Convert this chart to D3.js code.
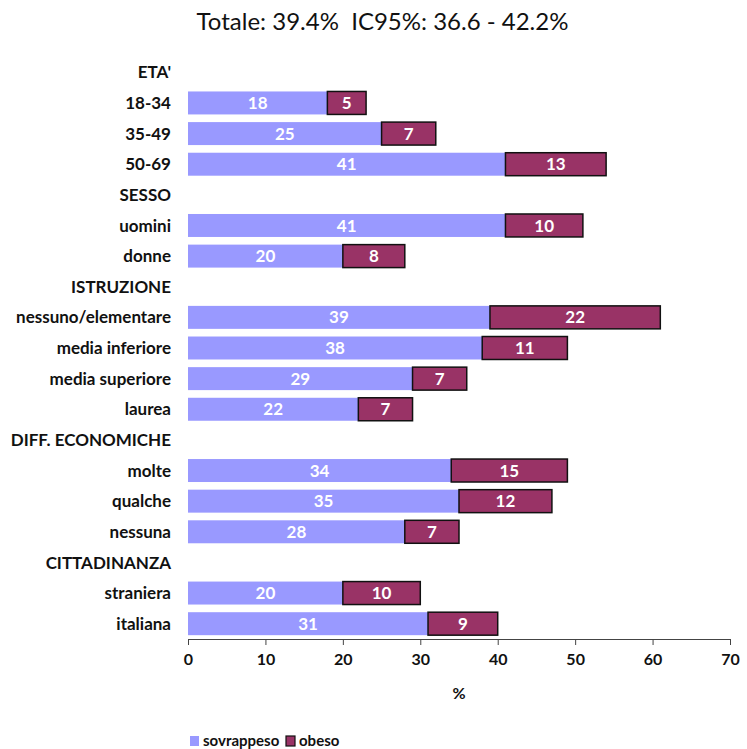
<!DOCTYPE html>
<html>
<head>
<meta charset="utf-8">
<script src="https://cdn.jsdelivr.net/npm/d3@7"></script>
<style>
  body { margin: 0; background: #fff; }
  svg { font-family: Lato, "Open Sans", sans-serif; }
</style>
</head>
<body>
<svg id="chart" width="747" height="749"></svg>
<script>
// Rows top to bottom; group headers have null values
const categories = ["ETA'", "18-34", "35-49", "50-69", "SESSO", "uomini", "donne",
  "ISTRUZIONE", "nessuno/elementare", "media inferiore", "media superiore", "laurea",
  "DIFF. ECONOMICHE", "molte", "qualche", "nessuna", "CITTADINANZA", "straniera", "italiana"];
const sovrappeso = [null, 18, 25, 41, null, 41, 20, null, 39, 38, 29, 22, null, 34, 35, 28, null, 20, 31];
const obeso      = [null, 5, 7, 13, null, 10, 8, null, 22, 11, 7, 7, null, 15, 12, 7, null, 10, 9];
const seriesNames = ["sovrappeso", "obeso"];
const seriesColors = ["#9999FF", "#993366"];
const xTicks = [0, 10, 20, 30, 40, 50, 60, 70];
const title = "Totale: 39.4%  IC95%: 36.6 - 42.2%";

const svg = d3.select("#chart");

const x = d3.scaleLinear().domain([0, 70]).range([188, 730]);
const y = d3.scaleBand().domain(categories).range([57, 639]).paddingInner(0.25).paddingOuter(0.125);

svg.append("text")
  .attr("x", 382.5).attr("y", 30)
  .attr("text-anchor", "middle")
  .attr("font-size", 24)
  .attr("fill", "#111")
  .style("white-space", "pre")
  .text(title);

// category labels
svg.append("g").selectAll("text")
  .data(categories)
  .join("text")
  .attr("x", 171)
  .attr("y", d => y(d) + y.bandwidth() / 2)
  .attr("dy", "0.36em")
  .attr("text-anchor", "end")
  .attr("font-size", 17)
  .attr("font-weight", "bold")
  .attr("fill", "#111")
  .text(d => d);

const rows = categories.map((c, i) => ({ c, s: sovrappeso[i], o: obeso[i] })).filter(d => d.s != null);

const bars = svg.append("g");
bars.selectAll("rect.s")
  .data(rows).join("rect")
  .attr("class", "s")
  .attr("x", x(0))
  .attr("y", d => y(d.c))
  .attr("width", d => x(d.s) - x(0))
  .attr("height", y.bandwidth())
  .attr("fill", seriesColors[0]);

bars.selectAll("rect.o")
  .data(rows).join("rect")
  .attr("class", "o")
  .attr("x", d => x(d.s))
  .attr("y", d => y(d.c))
  .attr("width", d => x(d.s + d.o) - x(d.s))
  .attr("height", y.bandwidth())
  .attr("fill", seriesColors[1])
  .attr("stroke", "#111")
  .attr("stroke-width", 1.5);

// value labels
bars.selectAll("text.s")
  .data(rows).join("text")
  .attr("x", d => (x(0) + x(d.s)) / 2)
  .attr("y", d => y(d.c) + y.bandwidth() / 2)
  .attr("dy", "0.36em")
  .attr("text-anchor", "middle")
  .attr("font-size", 17)
  .attr("font-weight", "bold")
  .attr("fill", "#fff")
  .text(d => d.s);

bars.selectAll("text.o")
  .data(rows).join("text")
  .attr("x", d => (x(d.s) + x(d.s + d.o)) / 2)
  .attr("y", d => y(d.c) + y.bandwidth() / 2)
  .attr("dy", "0.36em")
  .attr("text-anchor", "middle")
  .attr("font-size", 17)
  .attr("font-weight", "bold")
  .attr("fill", "#fff")
  .text(d => d.o);

// x axis
const axis = svg.append("g")
  .attr("transform", "translate(0,639)")
  .call(d3.axisBottom(x).tickValues(xTicks).tickSize(6).tickPadding(9).tickSizeOuter(0));
axis.select(".domain").attr("stroke", "#444");
axis.selectAll(".tick line").attr("stroke", "#444");
axis.selectAll(".tick text")
  .attr("font-size", 16)
  .attr("font-weight", "bold")
  .attr("fill", "#111")
  .attr("font-family", "Lato, 'Open Sans', sans-serif");

svg.append("text")
  .attr("x", x(35)).attr("y", 699)
  .attr("text-anchor", "middle")
  .attr("font-size", 16)
  .attr("font-weight", "bold")
  .attr("fill", "#111")
  .text("%");

// legend
const legend = svg.append("g").attr("transform", "translate(0,741)");
const legX = [190, 286];
seriesNames.forEach((name, i) => {
  const g = legend.append("g").attr("transform", `translate(${legX[i]},0)`);
  g.append("rect")
    .attr("x", 0).attr("y", -5)
    .attr("width", 9).attr("height", 10)
    .attr("fill", seriesColors[i])
    .attr("stroke", i === 1 ? "#111" : "none")
    .attr("stroke-width", 1.2);
  g.append("text")
    .attr("x", 13).attr("y", 0)
    .attr("dy", "0.34em")
    .attr("font-size", 15)
    .attr("font-weight", "bold")
    .attr("fill", "#111")
    .text(name);
});
</script>
</body>
</html>
